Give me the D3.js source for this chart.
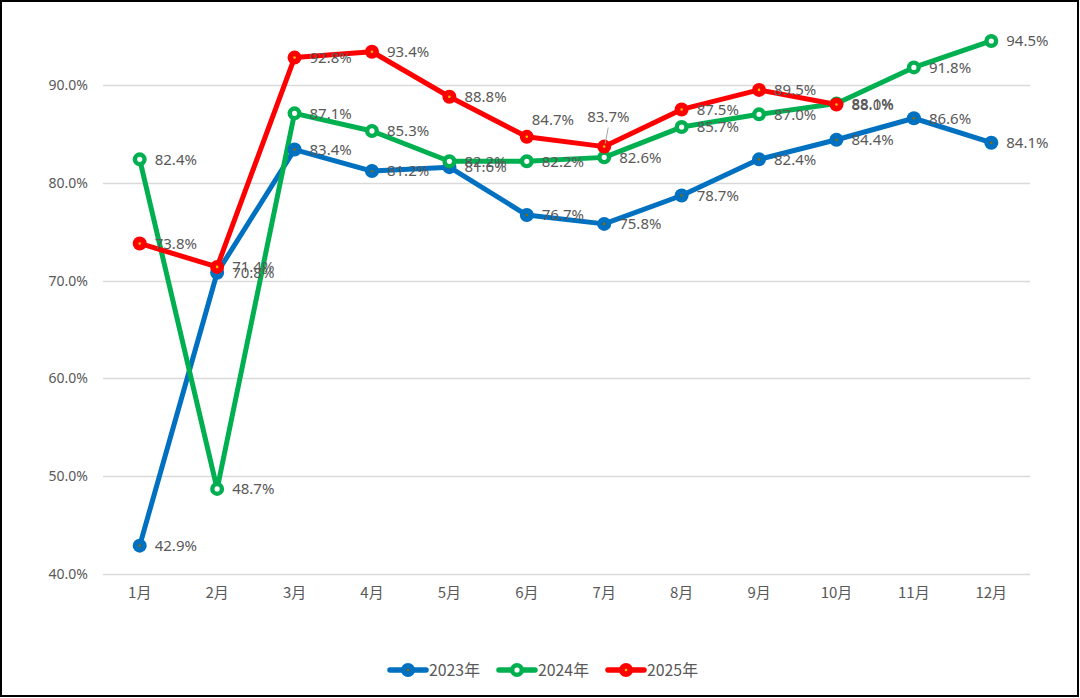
<!DOCTYPE html>
<html><head><meta charset="utf-8">
<script src="https://cdn.jsdelivr.net/npm/d3@7"></script>
<style>
html,body{margin:0;padding:0;background:#fff;}
svg{display:block;}
</style></head>
<body>
<svg id="c" width="1080" height="698"></svg>
<script>
const months = ["1月","2月","3月","4月","5月","6月","7月","8月","9月","10月","11月","12月"];
const yTicks = [0.4,0.5,0.6,0.7,0.8,0.9];
const seriesNames = ["2023年","2024年","2025年"];
const v2023 = [42.9,70.8,83.4,81.2,81.6,76.7,75.8,78.7,82.4,84.4,86.6,84.1];
const v2024 = [82.4,48.7,87.1,85.3,82.2,82.2,82.6,85.7,87.0,88.1,91.8,94.5];
const v2025 = [73.8,71.4,92.8,93.4,88.8,84.7,83.7,87.5,89.5,88.0];
const colors = ["#0070C0","#00B050","#FF0000"];
const centerDots = ["#8a6a00","#ffffff","#f5c000"];

const svg = d3.select("#c");
const x = d3.scaleBand().domain(months).range([101,1030]);
const y = d3.scaleLinear().domain([0.4,0.9]).range([574,85]);
const cx = m => x(m) + x.bandwidth()/2;

// frame
svg.append("rect").attr("x",1).attr("y",1).attr("width",1077).attr("height",695)
  .attr("fill","#fff").attr("stroke","#000").attr("stroke-width",2);

// gridlines
svg.append("g").selectAll("line").data(yTicks).join("line")
  .attr("x1",103).attr("x2",1030).attr("y1",d=>Math.round(y(d))+0.5).attr("y2",d=>Math.round(y(d))+0.5)
  .attr("stroke","#d9d9d9").attr("stroke-width",1.3);

// y axis labels
const yAxis = d3.axisLeft(y).tickValues(yTicks).tickFormat(d3.format(".1%")).tickSize(0).tickPadding(0);
const ya = svg.append("g").attr("transform","translate(88,0)").call(yAxis);
ya.select(".domain").remove();
ya.selectAll("text").attr("fill","#595959").style("font-family","'Noto Sans', sans-serif").style("font-size","14px");

// x axis labels
const xAxis = d3.axisBottom(x).tickSize(0).tickPadding(0);
const xa = svg.append("g").attr("transform","translate(0,587)").call(xAxis);
xa.select(".domain").remove();
xa.selectAll("text").attr("fill","#595959").style("font-family","'Noto Sans CJK SC', sans-serif").style("font-size","15px");

const series = [v2023, v2024, v2025].map((vals,i)=>({name:seriesNames[i], color:colors[i], dot:centerDots[i],
  pts: vals.map((v,j)=>({m:months[j], v:v/100}))}));

const line = d3.line().x(d=>cx(d.m)).y(d=>y(d.v));

// lines
series.forEach(s=>{
  svg.append("path").datum(s.pts).attr("d",line).attr("fill","none")
    .attr("stroke",s.color).attr("stroke-width",5).attr("stroke-linejoin","round");
});

// markers
function marker(g, s, px, py){
  if (s.dot === "#ffffff"){
    g.append("circle").attr("cx",px).attr("cy",py).attr("r",4.8).attr("fill","#fff")
      .attr("stroke",s.color).attr("stroke-width",4.4);
  } else {
    g.append("circle").attr("cx",px).attr("cy",py).attr("r",7).attr("fill",s.color);
    g.append("circle").attr("cx",px).attr("cy",py).attr("r",1.3).attr("fill",s.dot);
  }
}
series.forEach(s=>{
  const g = svg.append("g");
  s.pts.forEach(p=>marker(g, s, cx(p.m), y(p.v)));
});

// data labels
const fmt = d3.format(".1%");
series.forEach((s,si)=>{
  const g = svg.append("g");
  s.pts.forEach((p,j)=>{
    let px = cx(p.m), py = y(p.v);
    let lx = px + 15, ly = py;
    if (si===2 && j===5){ lx = px + 5; ly = py - 17; }
    if (si===2 && j===6){
      lx = px - 17; ly = py - 30;
      g.append("line").attr("x1",px+4).attr("y1",py-19).attr("x2",px+1).attr("y2",py-3)
        .attr("stroke","#a6a6a6").attr("stroke-width",1);
    }
    g.append("text").attr("x",lx).attr("y",ly).attr("dy","0.35em")
      .attr("fill","#595959").style("font-family","'Noto Sans', sans-serif").style("font-size","15px")
      .text(fmt(p.v));
  });
});

// legend
const legendX = [388, 497, 606];
const lg = svg.append("g");
series.forEach((s,i)=>{
  const lx = legendX[i], ly = 670;
  lg.append("line").attr("x1",lx+2).attr("x2",lx+38).attr("y1",ly).attr("y2",ly)
    .attr("stroke",s.color).attr("stroke-width",5.5).attr("stroke-linecap","round");
  marker(lg, s, lx+20, ly);
  lg.append("text").attr("x",lx+41).attr("y",ly).attr("dy","0.35em")
    .attr("fill","#595959").style("font-family","'Noto Sans CJK SC', sans-serif").style("font-size","16px")
    .attr("textLength",51).attr("lengthAdjust","spacingAndGlyphs")
    .text(s.name);
});
</script>
</body></html>
